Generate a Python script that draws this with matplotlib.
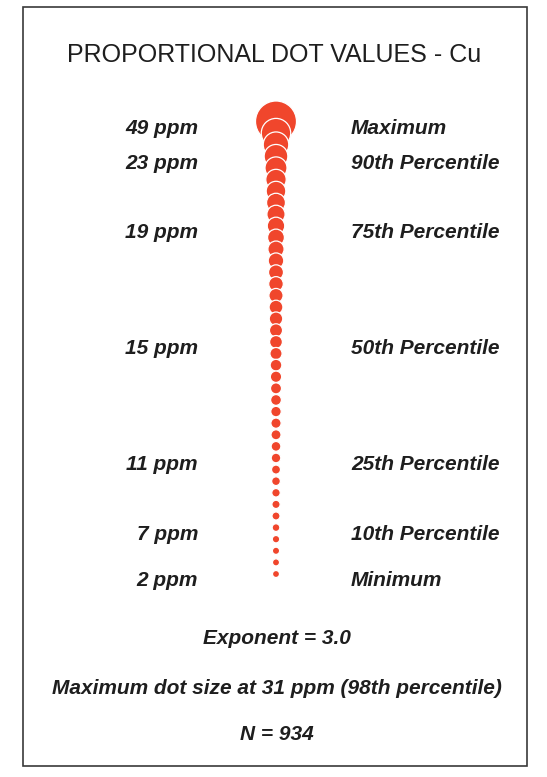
# modules
import numpy as np
import matplotlib
matplotlib.use('Agg')
import matplotlib.pyplot as plt
import matplotlib.transforms as mtransforms
from matplotlib.patches import Rectangle

# value in ppm of each dot, from the minimum (bottom) to the maximum (top)
values = [2, 4, 5, 6, 7, 8, 8.5, 9, 9.5, 10, 11, 11.3, 11.7, 12, 12.3, 12.7, 13,
          13.4, 13.8, 14.3, 15, 15.3, 15.7, 16, 16.3, 16.7, 17, 17.5, 18, 18.5,
          19, 19.5, 20, 20.5, 21, 22, 23, 24, 26, 49]

# labelled levels (dot index counted from the bottom)
label_idx = [39, 36, 30, 20, 10, 4, 0]
left_labels = ['49 ppm', '23 ppm', '19 ppm', '15 ppm', '11 ppm', '7 ppm', '2 ppm']
right_labels = ['Maximum', '90th Percentile', '75th Percentile', '50th Percentile',
                '25th Percentile', '10th Percentile', 'Minimum']

title = 'PROPORTIONAL DOT VALUES - Cu'
notes = ['Exponent = 3.0', 'Maximum dot size at 31 ppm (98th percentile)', 'N = 934']

V_CAP = 31.0
D_MIN, D_MAX, POW = 7.0, 41.0, 2.2   # dot diameter in pixels


def dot_diameter(v):
    f = np.clip((np.asarray(v) - min(values)) / (V_CAP - min(values)), 0, 1)
    return D_MIN + (D_MAX - D_MIN) * f ** POW


W, H = 547, 777
fig = plt.figure(figsize=(W / 100, H / 100), dpi=100)

# frame / text layer in pixel units
ax = fig.add_axes([0, 0, 1, 1])
ax.set_xlim(0, W)
ax.set_ylim(H, 0)
ax.axis('off')
ax.add_patch(Rectangle((23, 7), 504, 759, fill=False, ec='#3a3a3a', lw=1.2))

ink = '#1e1e1e'
bold_it = dict(family='Liberation Sans', weight='bold', style='italic', color=ink)
ax.text(274, 55, title, ha='center', va='center', fontsize=18,
        family='Liberation Sans', color=ink)
for y, s in zip([639, 688, 734], notes):
    ax.text(277, y, s, ha='center', va='center', fontsize=15, **bold_it)

# dot column: y axis is the dot index
n = len(values)
y0, y1 = 574, 121.5
axd = fig.add_axes([0, 1 - y0 / H, 1, (y0 - y1) / H])
axd.set_xlim(0, W)
axd.set_ylim(0, n - 1)
axd.axis('off')

d = dot_diameter(values)
idx = np.arange(n)
order = idx[::-1]   # big dots first, small ones on top
axd.scatter(np.full(n, 276.0)[order], idx[order],
            s=(d[order] * 0.72) ** 2, c='#f0462c', edgecolors='white',
            linewidths=0.9, clip_on=False, zorder=3)

tr = mtransforms.offset_copy(axd.transData, fig=fig, y=-7, units='dots')
for k, l, r in zip(label_idx, left_labels, right_labels):
    axd.text(198, k, l, ha='right', va='center', fontsize=15, transform=tr, **bold_it)
    axd.text(351, k, r, ha='left', va='center', fontsize=15, transform=tr, **bold_it)

fig.savefig('out.png', dpi=100, facecolor='white')
plt.close(fig)
